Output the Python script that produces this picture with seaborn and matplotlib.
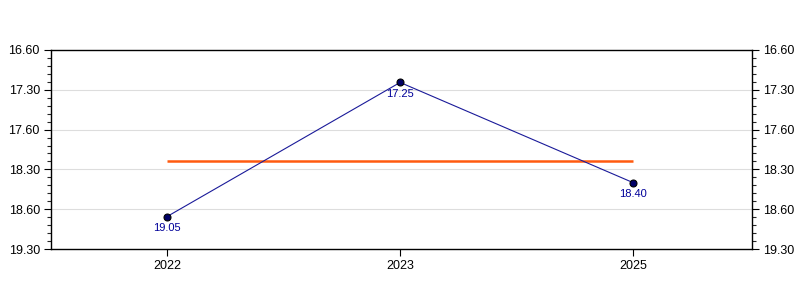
import matplotlib
matplotlib.use("Agg")
import matplotlib.pyplot as plt
from matplotlib.ticker import AutoMinorLocator, FixedLocator
import seaborn as sns
import numpy as np
import pandas as pd

years = ["2022", "2023", "2025"]
# positions of the points as read against the chart's y axis
values = [18.86, 17.04, 18.40]
# point labels as printed on the chart
value_labels = ["19.05", "17.25", "18.40"]
target_line = 18.10
y_tick_labels = ["16.60", "17.30", "17.60", "18.30", "18.60", "19.30"]
y_min, y_max = 16.60, 19.30

sns.set_theme(style="white")
plt.rcParams["font.family"] = ["Liberation Sans", "DejaVu Sans"]

df = pd.DataFrame({"pos": np.arange(len(years)), "year": years, "value": values})

fig = plt.figure(figsize=(8, 3), dpi=100)
ax = fig.add_axes([51 / 800, 1 - 249 / 300, 701 / 800, 199 / 300])

sns.lineplot(data=df, x="pos", y="value", ax=ax, color="#1a1a99", lw=0.8,
             marker="o", markersize=5, markerfacecolor="#000066",
             markeredgecolor="black", markeredgewidth=0.8, zorder=3)

ax.hlines(target_line, df["pos"].min(), df["pos"].max(), color="#ff5a0f", lw=1.8, zorder=2)

for p, v, lab in zip(df["pos"], df["value"], value_labels):
    ax.annotate(lab, (p, v), xytext=(0, -4.5), textcoords="offset points",
                ha="center", va="top", fontsize=8, color="#000099", zorder=4)

ax.set_xlim(-0.498, 2.51)
ax.set_ylim(y_max, y_min)
ax.set_xticks(df["pos"])
ax.set_xticklabels(years)
yt = np.linspace(y_min, y_max, len(y_tick_labels))
ax.yaxis.set_major_locator(FixedLocator(yt))
ax.set_yticklabels(y_tick_labels)
ax.yaxis.set_minor_locator(AutoMinorLocator(5))

for y in yt[1:-1]:
    ax.axhline(y, color="#dddddd", lw=0.8, zorder=0)

ax.set_xlabel("")
ax.set_ylabel("")
for s in ax.spines.values():
    s.set_color("black")
    s.set_linewidth(1.0)

ax.tick_params(axis="y", which="major", direction="out", length=5, width=0.8,
               left=True, right=True, labelleft=True, labelright=True,
               labelsize=9, colors="black", pad=3)
ax.tick_params(axis="y", which="minor", direction="out", length=3, width=0.8,
               left=True, right=True)
ax.tick_params(axis="x", which="major", direction="out", length=5, width=0.8,
               bottom=True, labelsize=9, colors="black", pad=3)

fig.savefig("out.png", dpi=100)
